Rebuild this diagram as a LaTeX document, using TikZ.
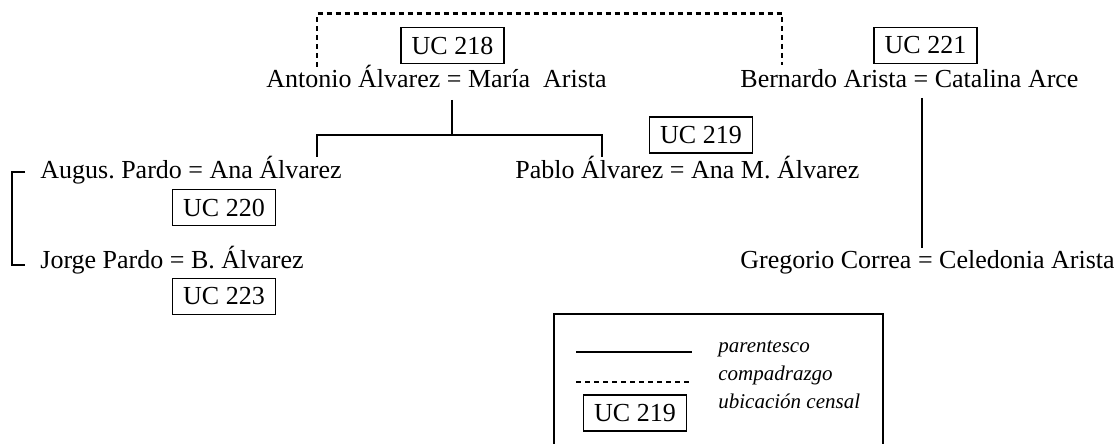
\documentclass[tikz,border=0pt]{standalone}
\usepackage{fontspec}
\setmainfont{Liberation Serif}
\usetikzlibrary{positioning}
\frenchspacing

\begin{document}
\begin{tikzpicture}[x=0.5pt,y=-0.5pt,
                every node/.append style = {inner sep=0pt, font=\fontsize{13pt}{15pt}\selectfont},
                couple/.style = {anchor=base west},
                ucbox/.style = {draw, line width=0.6pt, minimum width=51.5pt, minimum height=18pt},
                kin/.style = {line width=1.1pt},
                compadre/.style = {line width=1.1pt, dash pattern=on 2.6pt off 1.9pt},
                legtext/.style = {anchor=base west, font=\fontsize{10.5pt}{12pt}\selectfont\itshape}]
            \useasboundingbox (0,0) rectangle (1114,444);
            \node[couple] (nanto) at (266,88) {Antonio Álvarez = María~~Arista};
            \node[couple] (nbern) at (740,88) {Bernardo Arista = Catalina Arce};
            \node[couple] (naugus) at (40,178) {Augus.\ Pardo = Ana Álvarez};
            \node[couple] (npablo) at (515,178) {Pablo Álvarez = Ana M. Álvarez};
            \node[couple] (njorge) at (40,268) {Jorge Pardo = B. Álvarez};
            \node[couple] (ngreg) at (740,268) {Gregorio Correa = Celedonia Arista};
            \node[ucbox] (uc218) at (452.5,45.5) {UC 218};
            \node[ucbox] (uc221) at (925.5,45.5) {UC 221};
            \node[ucbox] (uc219) at (701,135) {UC 219};
            \node[ucbox] (uc220) at (224,207.5) {UC 220};
            \node[ucbox] (uc223) at (224,296.5) {UC 223};
            \coordinate (dA) at (317,67);
            \coordinate (dtop) at (550,13.5);
            \coordinate (dB) at (782,65);
            \draw[compadre] (dA) |- (dtop) -| (dB);
            \coordinate (pA) at (452,100);
            \coordinate (pbar) at (452,135);
            \coordinate (hA) at (317,157);
            \coordinate (hB) at (602,157);
            \draw[kin] (pA) -- (pbar);
            \draw[kin] (hA) |- (pbar) -| (hB);
            \coordinate (bA) at (25,172);
            \coordinate (bB) at (25,265);
            \draw[kin] (bA) -- ++(-13,0) |- (bB);
            \coordinate (gA) at (922,98);
            \coordinate (gB) at (922,248);
            \draw[kin] (gA) -- (gB);
            \draw[line width=1.1pt] (554,460) |- (883,314) -- (883,460);
            \coordinate (lk1) at (576,352);
            \coordinate (lk2) at (692,352);
            \coordinate (lc1) at (576,382);
            \coordinate (lc2) at (692,382);
            \draw[kin] (lk1) -- (lk2);
            \draw[compadre] (lc1) -- (lc2);
            \node[ucbox] (lucbox) at (635,413) {UC 219};
            \node[legtext] (lkin) at (718,352) {parentesco};
            \node[legtext] (lcomp) at (718,380) {compadrazgo};
            \node[legtext] (lubic) at (718,408) {ubicación censal};
            \end{tikzpicture}
\end{document}
